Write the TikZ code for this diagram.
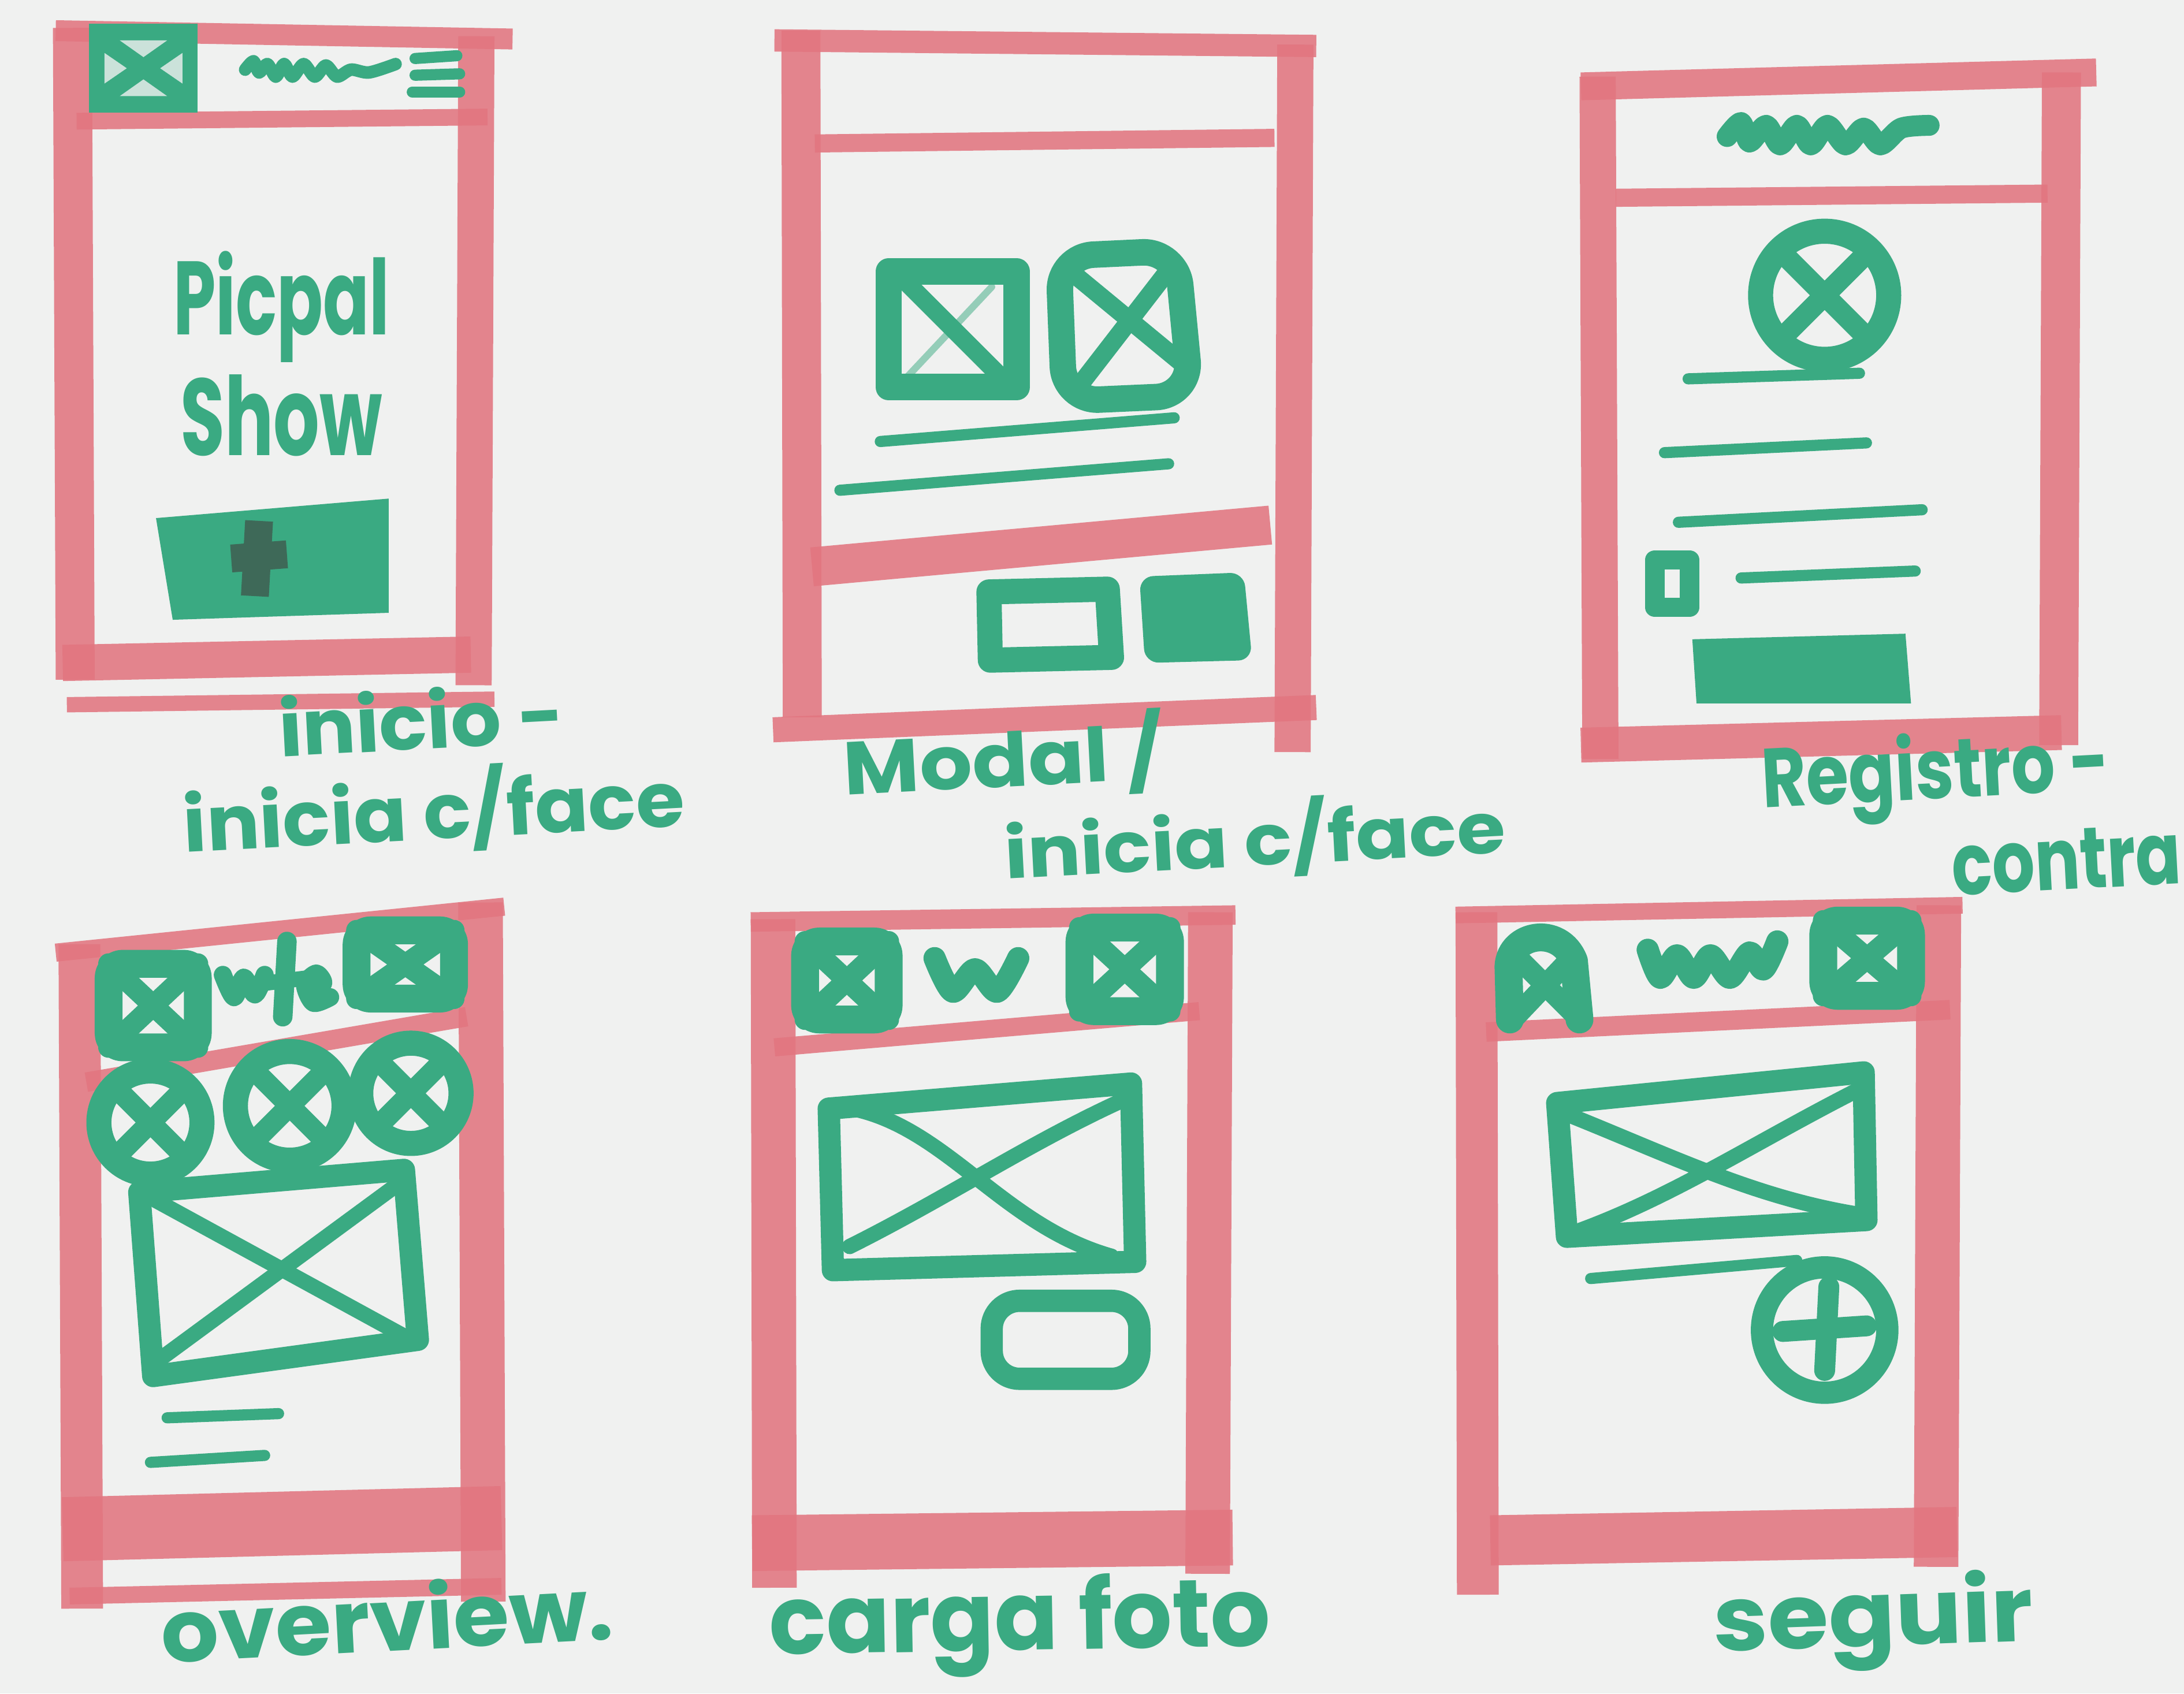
\documentclass[tikz,border=0pt]{standalone}
\usepackage{fontspec}
\setmainfont{Poppins}
\definecolor{paper}{RGB}{240,241,240}
\definecolor{marker}{RGB}{226,118,128}
\definecolor{ink}{RGB}{58,170,130}
\definecolor{inkdark}{RGB}{62,105,88}
\tikzset{
  bar/.style={draw=marker, line width=#1, opacity=0.88, line cap=butt},
  bar/.default=2.5mm,
  pen/.style={draw=ink, line width=#1, line cap=round, line join=round},
  pen/.default=0.8mm,
  note/.style={text=ink, font=\bfseries, inner sep=0pt, anchor=base west},
}
% thick crossed box used as an image placeholder icon
\newcommand\xicon[4]{%
  \draw[pen=2mm, rounded corners=1mm] (#1,#2) rectangle (#3,#4);
  \draw[pen=1.5mm] (#1,#2) -- (#3,#4);
  \draw[pen=1.5mm] (#3,#2) -- (#1,#4);}
% crossed circle used as an avatar icon
\newcommand\xavatar[3]{%
  \draw[pen=1.8mm] (#1,#2) circle[radius=#3];
  \draw[pen=1.5mm] (#1-0.7*#3,#2-0.7*#3) -- (#1+0.7*#3,#2+0.7*#3);
  \draw[pen=1.5mm] (#1+0.7*#3,#2-0.7*#3) -- (#1-0.7*#3,#2+0.7*#3);}
\begin{document}
\begin{tikzpicture}[x=0.1mm,y=-0.1mm]
\fill[paper] (0,0) rectangle (1568,1216);
\useasboundingbox (0,0) rectangle (1568,1216);

% ---------- screen 1: inicio ----------
\draw[bar=2.8mm] (52,20) -- (54,488);
\draw[bar=1.5mm] (40,22) -- (368,28);
\draw[bar=2.6mm] (342,26) -- (340,492);
\draw[bar=1.2mm] (55,87) -- (350,84);
\draw[bar=2.6mm] (45,476) -- (338,470);
\draw[bar=1.1mm] (48,506) -- (355,502);
% logo block
\fill[ink] (64,17) rectangle (142,81);
\fill[paper, opacity=0.8] (86,29) -- (120,29) -- (103,41) -- cycle;
\fill[paper, opacity=0.8] (86,69) -- (120,69) -- (103,57) -- cycle;
\fill[paper, opacity=0.8] (75,38) -- (75,60) -- (91,49) -- cycle;
\fill[paper, opacity=0.8] (131,38) -- (131,60) -- (115,49) -- cycle;
\draw[pen=0.9mm] plot[smooth] coordinates {(176,50)(182,44)(186,52)(192,46)(198,55)(204,46)(210,55)(218,46)(226,55)(234,47)(242,55)(252,50)(265,52)(284,46)};
\draw[pen=0.8mm] (298,42) -- (328,40);
\draw[pen=0.8mm] (298,54) -- (330,53);
\draw[pen=0.8mm] (296,66) -- (330,66);
\node[text=ink, font=\bfseries, align=center, inner sep=0pt] (brand) at (202,254)
  {\resizebox{15.5mm}{6mm}{Picpal}\\[0.5mm]\resizebox{14.5mm}{5.8mm}{Show}};
\fill[ink] (112,372) -- (279,358) -- (279,440) -- (124,445) -- cycle;
\draw[draw=inkdark, line width=2mm] (186,374) -- (183,428);
\draw[draw=inkdark, line width=2mm] (166,401) -- (206,398);

% ---------- screen 2: modal ----------
\draw[bar=2.8mm] (575,22) -- (576,515);
\draw[bar=1.6mm] (556,29) -- (945,33);
\draw[bar=2.6mm] (930,32) -- (928,540);
\draw[bar=1.3mm] (585,103) -- (915,99);
\draw[pen=1.9mm] (638,195) rectangle (730,278);
\draw[pen=1.3mm] (652,204) -- (722,274);
\draw[pen=0.5mm, opacity=0.5] (712,206) -- (650,272);
\draw[pen=1.9mm, rounded corners=2.5mm] (760,184) -- (845,180) -- (855,284) -- (764,288) -- cycle;
\draw[pen=1.3mm] (770,196) -- (850,262);
\draw[pen=1.3mm] (842,190) -- (774,278);
\draw[pen] (632,317) -- (843,300);
\draw[pen] (603,352) -- (839,333);
\draw[bar=2.8mm] (583,407) -- (912,377);
\draw[pen=1.8mm] (710,425) -- (795,423) -- (798,472) -- (711,474) -- cycle;
\fill[ink, rounded corners=1mm] (818,414) -- (893,411) -- (899,474) -- (822,476) -- cycle;
\draw[bar=1.8mm] (555,524) -- (945,508);

% ---------- screen 3: registro ----------
\draw[bar=2.0mm] (1135,62) -- (1505,52);
\draw[bar=2.6mm] (1147,55) -- (1149,545);
\draw[bar=2.8mm] (1480,52) -- (1478,535);
\draw[pen=1.5mm] plot[smooth] coordinates {(1240,98)(1250,88)(1256,102)(1268,90)(1278,104)(1290,90)(1300,104)(1312,90)(1325,104)(1338,92)(1350,104)(1365,92)(1385,90)};
\draw[bar=1.3mm] (1160,142) -- (1470,139);
\xavatar{1310}{212}{46}
\draw[pen] (1212,272) -- (1335,268);
\draw[pen] (1195,325) -- (1340,318);
\draw[pen] (1205,375) -- (1380,366);
\draw[pen] (1250,415) -- (1375,410);
\draw[pen=1.4mm] (1188,402) rectangle (1213,436);
\fill[ink] (1215,459) -- (1368,455) -- (1372,505) -- (1218,505) -- cycle;
\draw[bar=2.5mm] (1135,535) -- (1480,526);

% ---------- screen 4: overview ----------
\draw[bar=1.3mm] (40,684) -- (362,651);
\draw[bar=3.0mm] (57,678) -- (59,1155);
\draw[bar=3.2mm] (345,648) -- (347,1150);
\draw[bar=1.4mm] (62,777) -- (335,730);
\xicon{78}{692}{142}{752}
\draw[pen=1.3mm] plot[smooth] coordinates {(160,700)(168,716)(175,702)(183,714)(190,700)};
\draw[pen=1.4mm] (206,676) -- (203,730);
\draw[pen=1.1mm] (190,706) -- (222,702);
\draw[pen=1.3mm] plot[smooth] coordinates {(222,712)(232,706)(227,699)(219,707)(225,720)(237,716)};
\xicon{256}{668}{326}{717}
\xavatar{108}{806}{37}
\xavatar{208}{794}{39}
\xavatar{295}{785}{36}
\draw[pen=1.6mm] (100,856) -- (290,840) -- (300,962) -- (110,988) -- cycle;
\draw[pen=1.1mm] (112,862) -- (295,962);
\draw[pen=1.1mm] (286,850) -- (112,978);
\draw[pen] (120,1018) -- (200,1015);
\draw[pen] (108,1050) -- (190,1045);
\draw[bar=4.6mm] (45,1098) -- (360,1090);
\draw[bar=1.2mm] (50,1146) -- (360,1139);

% ---------- screen 5: cargar foto ----------
\draw[bar=1.4mm] (539,662) -- (887,657);
\draw[bar=3.2mm] (555,660) -- (556,1140);
\draw[bar=3.2mm] (869,655) -- (867,1130);
\draw[bar=1.3mm] (556,752) -- (861,726);
\xicon{578}{676}{638}{732}
\draw[pen=1.6mm] plot[smooth] coordinates {(671,688)(684,712)(700,696)(716,712)(731,688)};
\xicon{775}{666}{840}{726}
\draw[pen=1.6mm] (595,796) -- (812,778) -- (815,906) -- (598,912) -- cycle;
\draw[pen=1.1mm] (612,796) .. controls (680,810) and (720,880) .. (798,902);
\draw[pen=1.1mm] (806,790) .. controls (740,820) and (680,860) .. (610,895);
\draw[pen=1.6mm, rounded corners=2mm] (712,934) rectangle (818,990);
\draw[bar=4.0mm] (540,1108) -- (885,1104);

% ---------- screen 6: seguir ----------
\draw[bar=1.2mm] (1045,657) -- (1409,650);
\draw[bar=3.0mm] (1060,655) -- (1061,1145);
\draw[bar=3.2mm] (1392,650) -- (1390,1125);
\draw[bar=1.4mm] (1067,741) -- (1400,725);
\draw[pen=2mm] (1084,732) -- (1083,694) .. controls (1084,670) and (1120,664) .. (1130,690) -- (1134,732);
\draw[pen=1.5mm] (1090,688) -- (1130,728);
\draw[pen=1.5mm] (1126,690) -- (1088,730);
\draw[pen=1.6mm] plot[smooth] coordinates {(1183,682)(1192,702)(1204,686)(1216,702)(1228,686)(1242,702)(1256,684)(1266,696)(1276,676)};
\xicon{1309}{661}{1372}{715}
\draw[pen=1.6mm] (1118,792) -- (1338,770) -- (1340,876) -- (1125,888) -- cycle;
\draw[pen=1.1mm] (1125,800) .. controls (1200,830) and (1260,860) .. (1335,872);
\draw[pen=1.1mm] (1335,782) .. controls (1260,820) and (1200,860) .. (1130,885);
\draw[pen] (1142,918) -- (1290,905);
\draw[pen=1.6mm] (1310,955) circle[radius=45];
\draw[pen=1.5mm] (1313,924) -- (1310,984);
\draw[pen=1.5mm] (1280,956) -- (1340,952);
\draw[bar=3.6mm] (1070,1106) -- (1405,1100);

% ---------- captions ----------
\node[note, rotate=3] (capA) at (132,612)
  {\rlap{\hspace*{7.2mm}\raisebox{6.5mm}{\resizebox{20.5mm}{4.4mm}{inicio -}}}\resizebox{36mm}{5.2mm}{inicia c/face}};
\node[note, rotate=3] (capB) at (606,571)
  {\makebox[47.2mm][l]{\rlap{\hspace*{11.2mm}\raisebox{-6.6mm}{\resizebox{36mm}{4.8mm}{inicia c/face}}}\resizebox{23mm}{5.1mm}{Modal /}}};
\node[note, rotate=3] (capC) at (1265,580)
  {\makebox[29.8mm][l]{\rlap{\hspace*{13.3mm}\raisebox{-7mm}{\resizebox{16.5mm}{4.3mm}{contra}}}\resizebox{25mm}{4.8mm}{Registro -}}};
\node[note, rotate=3] (capD) at (116,1194) {\resizebox{32.5mm}{5mm}{overview.}};
\node[note, rotate=1] (capE) at (552,1188) {\resizebox{36mm}{5.4mm}{carga foto}};
\node[note, rotate=2] (capF) at (1230,1186) {\resizebox{23mm}{5.2mm}{seguir}};
\end{tikzpicture}
\end{document}
